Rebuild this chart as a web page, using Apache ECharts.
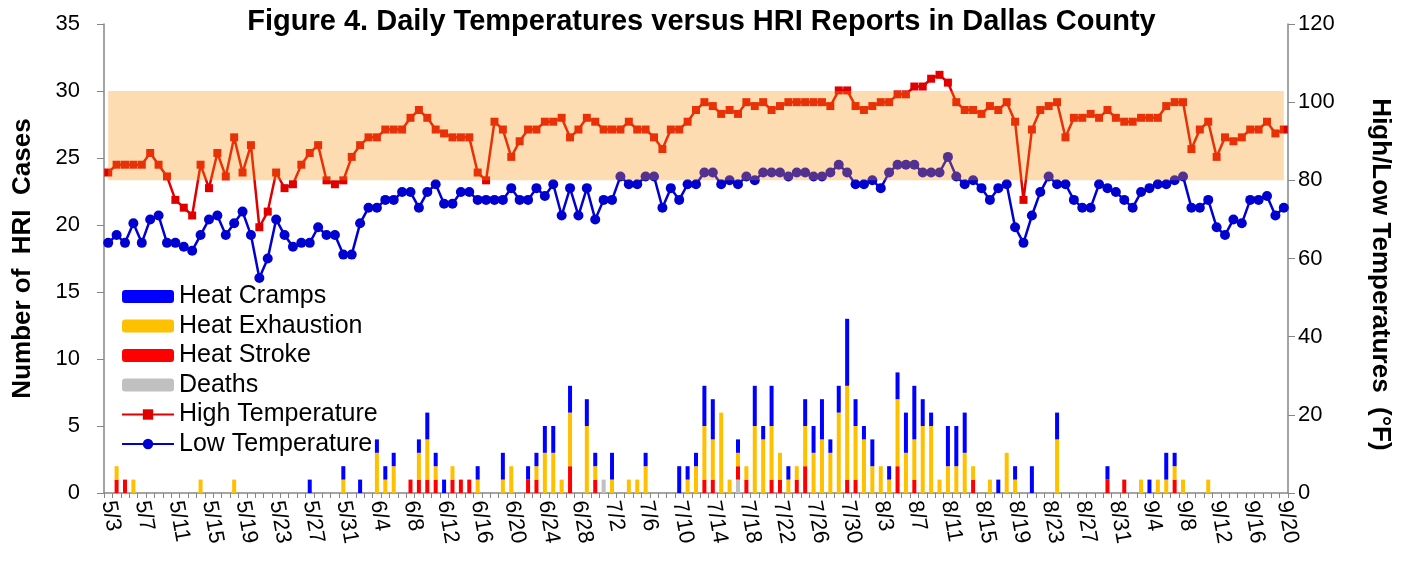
<!DOCTYPE html>
<html>
<head>
<meta charset="utf-8">
<script src="https://cdn.jsdelivr.net/npm/echarts@6/dist/echarts.min.js"></script>
<style>
html, body { margin: 0; padding: 0; background: #fff; }
#chart { width: 1403px; height: 563px; }
</style>
</head>
<body>
<div id="chart"></div>
<script>
// daily categories 5/3 .. 9/20
var days = [];
var monthLen = { 5: 31, 6: 30, 7: 31, 8: 31, 9: 20 };
for (var m = 5; m <= 9; m++) {
  for (var d = (m == 5 ? 3 : 1); d <= monthLen[m]; d++) days.push(m + '/' + d);
}

// high / low temperatures (°F), one per day
var highTemp = [
  82, 84, 84, 84, 84, 87, 84, 81, 75, 73,
  71, 84, 78, 87, 81, 91, 82, 89, 68, 72,
  82, 78, 79, 84, 87, 89, 80, 79, 80, 86,
  89, 91, 91, 93, 93, 93, 96, 98, 96, 93,
  92, 91, 91, 91, 82, 80, 95, 93, 86, 90,
  93, 93, 95, 95, 96, 91, 93, 96, 95, 93,
  93, 93, 95, 93, 93, 91, 88, 93, 93, 95,
  98, 100, 99, 97, 98, 97, 100, 99, 100, 98,
  99, 100, 100, 100, 100, 100, 99, 103, 103, 99,
  98, 99, 100, 100, 102, 102, 104, 104, 106, 107,
  105, 100, 98, 98, 97, 99, 98, 100, 95, 75,
  93, 98, 99, 100, 91, 96, 96, 97, 96, 98,
  96, 95, 95, 96, 96, 96, 99, 100, 100, 88,
  93, 95, 86, 91, 90, 91, 93, 93, 95, 92,
  93
];
var lowTemp = [
  64, 66, 64, 69, 64, 70, 71, 64, 64, 63,
  62, 66, 70, 71, 66, 69, 72, 66, 55, 60,
  70, 66, 63, 64, 64, 68, 66, 66, 61, 61,
  69, 73, 73, 75, 75, 77, 77, 73, 77, 79,
  74, 74, 77, 77, 75, 75, 75, 75, 78, 75,
  75, 78, 76, 79, 71, 78, 71, 78, 70, 75,
  75, 81, 79, 79, 81, 81, 73, 78, 75, 79,
  79, 82, 82, 79, 80, 79, 81, 80, 82, 82,
  82, 81, 82, 82, 81, 81, 82, 84, 82, 79,
  79, 80, 78, 82, 84, 84, 84, 82, 82, 82,
  86, 81, 79, 80, 78, 75, 78, 79, 68, 64,
  71, 77, 81, 79, 79, 75, 73, 73, 79, 78,
  77, 75, 73, 77, 78, 79, 79, 80, 81, 73,
  73, 75, 68, 66, 70, 69, 75, 75, 76, 71,
  73
];

// HRI reports per day
var heatCramps = [
  0, 0, 0, 0, 0, 0, 0, 0, 0, 0,
  0, 0, 0, 0, 0, 0, 0, 0, 0, 0,
  0, 0, 0, 0, 1, 0, 0, 0, 1, 0,
  1, 0, 1, 1, 1, 0, 0, 1, 2, 1,
  1, 0, 0, 0, 1, 0, 0, 2, 0, 0,
  1, 1, 2, 2, 0, 2, 0, 2, 1, 0,
  2, 0, 0, 0, 1, 0, 0, 0, 2, 1,
  1, 3, 3, 0, 0, 1, 0, 3, 1, 3,
  0, 1, 0, 2, 2, 3, 1, 2, 5, 2,
  1, 2, 0, 1, 2, 3, 4, 2, 1, 0,
  3, 3, 3, 0, 0, 0, 1, 0, 1, 0,
  2, 0, 0, 2, 0, 0, 0, 0, 0, 1,
  0, 0, 0, 0, 1, 0, 2, 1, 0, 0,
  0, 0, 0, 0, 0, 0, 0, 0, 0, 0,
  0
];
var heatExhaustion = [
  0, 1, 0, 1, 0, 0, 0, 0, 0, 0,
  0, 1, 0, 0, 0, 1, 0, 0, 0, 0,
  0, 0, 0, 0, 0, 0, 0, 0, 1, 0,
  0, 0, 3, 1, 2, 0, 0, 2, 3, 1,
  0, 1, 0, 0, 1, 0, 0, 1, 2, 0,
  0, 1, 3, 3, 1, 4, 0, 5, 1, 0,
  1, 0, 1, 1, 2, 0, 0, 0, 0, 1,
  2, 4, 3, 6, 1, 1, 1, 5, 4, 4,
  2, 1, 1, 3, 3, 4, 3, 6, 7, 4,
  4, 2, 2, 1, 5, 3, 3, 5, 5, 1,
  2, 2, 3, 1, 0, 1, 0, 3, 1, 0,
  0, 0, 0, 4, 0, 0, 0, 0, 0, 0,
  0, 0, 0, 1, 0, 1, 1, 1, 1, 0,
  0, 1, 0, 0, 0, 0, 0, 0, 0, 0,
  0
];
var heatStroke = [
  0, 1, 1, 0, 0, 0, 0, 0, 0, 0,
  0, 0, 0, 0, 0, 0, 0, 0, 0, 0,
  0, 0, 0, 0, 0, 0, 0, 0, 0, 0,
  0, 0, 0, 0, 0, 0, 1, 1, 1, 1,
  0, 1, 1, 1, 0, 0, 0, 0, 0, 0,
  1, 1, 0, 0, 0, 2, 0, 0, 1, 0,
  0, 0, 0, 0, 0, 0, 0, 0, 0, 0,
  0, 1, 1, 0, 0, 1, 1, 0, 0, 1,
  1, 0, 1, 2, 0, 0, 0, 0, 1, 1,
  0, 0, 0, 0, 2, 0, 1, 0, 0, 0,
  0, 0, 0, 1, 0, 0, 0, 0, 0, 0,
  0, 0, 0, 0, 0, 0, 0, 0, 0, 1,
  0, 1, 0, 0, 0, 0, 0, 1, 0, 0,
  0, 0, 0, 0, 0, 0, 0, 0, 0, 0,
  0
];
var deaths = [
  0, 0, 0, 0, 0, 0, 0, 0, 0, 0,
  0, 0, 0, 0, 0, 0, 0, 0, 0, 0,
  0, 0, 0, 0, 0, 0, 0, 0, 0, 0,
  0, 0, 0, 0, 0, 0, 0, 0, 0, 0,
  0, 0, 0, 0, 0, 0, 0, 0, 0, 0,
  0, 0, 0, 0, 0, 0, 0, 0, 0, 1,
  0, 0, 0, 0, 0, 0, 0, 0, 0, 0,
  0, 0, 0, 0, 0, 1, 0, 0, 0, 0,
  0, 0, 0, 0, 0, 0, 0, 0, 0, 0,
  0, 0, 0, 0, 0, 0, 0, 0, 0, 0,
  0, 0, 0, 0, 0, 0, 0, 0, 0, 0,
  0, 0, 0, 0, 0, 0, 0, 0, 0, 0,
  0, 0, 0, 0, 0, 0, 0, 0, 0, 0,
  0, 0, 0, 0, 0, 0, 0, 0, 0, 0,
  0
];

// shaded temperature band (°F)
var bandLow = 80;
var bandHigh = 102.86;

var font = "'Liberation Sans', Arial, sans-serif";
var chart = echarts.init(document.getElementById('chart'));

function barSeries(name, data, color) {
  return {
    name: name,
    type: 'bar',
    stack: 'hri',
    barWidth: 4,
    z: 2,
    itemStyle: { color: color },
    data: data
  };
}

var option = {
  animation: false,
  textStyle: { fontFamily: font },
  title: {
    text: 'Figure 4. Daily Temperatures versus HRI Reports in Dallas County',
    left: 'center',
    top: 7,
    padding: 0,
    textStyle: { fontSize: 29, fontWeight: 'bold', color: '#000', fontFamily: font }
  },
  legend: {
    orient: 'vertical',
    left: 121,
    top: 284,
    itemWidth: 52,
    itemHeight: 13,
    itemGap: 4.5,
    padding: 0,
    textStyle: { fontSize: 25, color: '#000', lineHeight: 25, fontFamily: font },
    data: ['Heat Cramps', 'Heat Exhaustion', 'Heat Stroke', 'Deaths', 'High Temperature', 'Low Temperature']
  },
  grid: { left: 104, right: 115, top: 24, bottom: 70, containLabel: false },
  xAxis: {
    type: 'category',
    data: days,
    boundaryGap: true,
    axisLine: { lineStyle: { color: '#868686', width: 1.5 } },
    axisTick: { show: true, interval: 0, length: 5, lineStyle: { color: '#868686' } },
    axisLabel: { interval: 3, rotate: -80, fontSize: 22, color: '#000', margin: 8, fontFamily: font },
    splitLine: { show: false }
  },
  yAxis: [
    {
      type: 'value',
      min: 0, max: 35, interval: 5,
      name: 'Number of  HRI  Cases',
      nameLocation: 'middle',
      nameGap: 68,
      nameTextStyle: { fontSize: 26, fontWeight: 'bold', color: '#000', fontFamily: font },
      axisLine: { show: true, lineStyle: { color: '#868686', width: 1.5 } },
      axisTick: { show: true, length: 7, lineStyle: { color: '#868686' } },
      axisLabel: { fontSize: 22, color: '#000', margin: 24, fontFamily: font },
      splitLine: { show: false }
    },
    {
      type: 'value',
      min: 0, max: 120, interval: 20,
      position: 'right',
      name: 'High/Low Temperatures  (°F)',
      nameLocation: 'middle',
      nameRotate: -90,
      nameGap: 79,
      nameTextStyle: { fontSize: 26, fontWeight: 'bold', color: '#000', fontFamily: font, padding: [0, 0, 0, 32] },
      axisLine: { show: true, lineStyle: { color: '#868686', width: 1.5 } },
      axisTick: { show: true, length: 7, lineStyle: { color: '#868686' } },
      axisLabel: { fontSize: 22, color: '#000', margin: 10, fontFamily: font },
      splitLine: { show: false }
    }
  ],
  series: [
    barSeries('Deaths', deaths, '#c0c0c0'),
    barSeries('Heat Stroke', heatStroke, '#ff0000'),
    barSeries('Heat Exhaustion', heatExhaustion, '#ffc000'),
    barSeries('Heat Cramps', heatCramps, '#0000ff'),
    {
      name: 'High Temperature',
      type: 'line',
      yAxisIndex: 1,
      z: 3,
      data: highTemp,
      symbol: 'rect',
      symbolSize: 8,
      showAllSymbol: true,
      lineStyle: { color: '#e00000', width: 2.5 },
      itemStyle: { color: '#e00000' }
    },
    {
      name: 'Low Temperature',
      type: 'line',
      yAxisIndex: 1,
      z: 3,
      data: lowTemp,
      symbol: 'circle',
      symbolSize: 10,
      showAllSymbol: true,
      lineStyle: { color: '#0000d0', width: 2.5 },
      itemStyle: { color: '#0000d0' }
    },
    {
      name: 'band',
      type: 'line',
      yAxisIndex: 1,
      z: 10,
      data: [],
      markArea: {
        silent: true,
        z: 10,
        itemStyle: { color: 'rgba(249,150,18,0.33)' },
        data: [[{ xAxis: days[0], yAxis: bandLow }, { xAxis: days[days.length - 1], yAxis: bandHigh }]]
      }
    }
  ]
};
chart.setOption(option);
</script>
</body>
</html>
